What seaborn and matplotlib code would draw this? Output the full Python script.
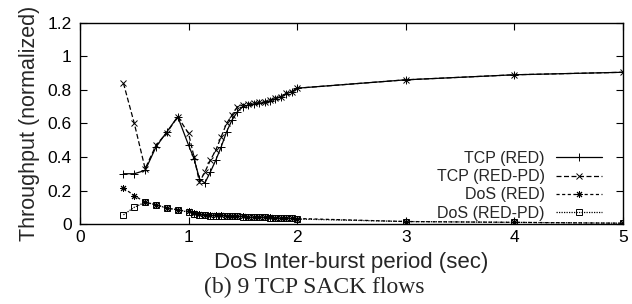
import numpy as np
import pandas as pd
import matplotlib
matplotlib.use("Agg")
import matplotlib.pyplot as plt
import seaborn as sns

# inter-burst period (sec)
period = [0.4, 0.5, 0.6, 0.7, 0.8, 0.9, 1.0, 1.05, 1.1, 1.15, 1.2, 1.25, 1.3, 1.35,
          1.4, 1.45, 1.5, 1.55, 1.6, 1.65, 1.7, 1.75, 1.8, 1.85, 1.9, 1.95, 2.0, 3.0, 4.0, 5.0]

tcp_red = [0.30, 0.30, 0.32, 0.46, 0.55, 0.64, 0.47, 0.39, 0.27, 0.245, 0.31, 0.38, 0.46, 0.55,
           0.62, 0.67, 0.70, 0.71, 0.715, 0.72, 0.725, 0.735, 0.745, 0.76, 0.775, 0.79, 0.81, 0.86, 0.89, 0.905]
tcp_redpd = [0.84, 0.60, 0.33, 0.47, 0.545, 0.64, 0.54, 0.40, 0.25, 0.31, 0.38, 0.44, 0.52, 0.60,
             0.65, 0.70, 0.71, 0.715, 0.72, 0.725, 0.73, 0.74, 0.75, 0.76, 0.78, 0.79, 0.81, 0.86, 0.89, 0.905]
dos_red = [0.215, 0.17, 0.13, 0.115, 0.095, 0.085, 0.075, 0.065, 0.058, 0.055, 0.053, 0.052, 0.051, 0.05,
           0.048, 0.047, 0.046, 0.045, 0.044, 0.043, 0.042, 0.04, 0.039, 0.038, 0.036, 0.035, 0.033, 0.015, 0.01, 0.005]
dos_redpd = [0.055, 0.10, 0.13, 0.115, 0.095, 0.085, 0.07, 0.062, 0.055, 0.052, 0.05, 0.05, 0.049, 0.048,
             0.047, 0.046, 0.045, 0.044, 0.043, 0.042, 0.04, 0.039, 0.038, 0.036, 0.035, 0.034, 0.03, 0.015, 0.01, 0.005]

series_names = ["TCP (RED)", "TCP (RED-PD)", "DoS (RED)", "DoS (RED-PD)"]
x_ticks = [0, 1, 2, 3, 4, 5]
y_ticks = [0, 0.2, 0.4, 0.6, 0.8, 1.0, 1.2]
y_tick_labels = ["0", "0.2", "0.4", "0.6", "0.8", "1", "1.2"]

sns.set_style("ticks")
plt.rcParams['font.family'] = ['Liberation Sans', 'DejaVu Sans']

fig = plt.figure(figsize=(6.32, 3.04), dpi=100)
ax = fig.add_axes([0.1266, 0.263, 0.859, 0.662])

styles = [
    dict(marker="+", linestyle="-", markersize=6, mfc="none"),
    dict(marker="x", linestyle=(0, (4, 2)), markersize=5, mfc="none"),
    dict(marker=(8, 2, 0), linestyle=(0, (2.5, 2)), markersize=5, mfc="none"),
    dict(marker="s", linestyle=(0, (1, 1)), markersize=4, mfc="none"),
]
values = [tcp_red, tcp_redpd, dos_red, dos_redpd]

for name, vals, st in zip(series_names, values, styles):
    sns.lineplot(x=period, y=vals, ax=ax, color="black", linewidth=0.9,
                 markeredgewidth=0.7, markeredgecolor="black", label=name, **st)

ax.set_xlim(0, 5)
ax.set_ylim(0, 1.2)
ax.set_xticks(x_ticks)
ax.set_xticklabels([str(t) for t in x_ticks])
ax.set_yticks(y_ticks)
ax.set_yticklabels(y_tick_labels)
ax.tick_params(direction="in", top=True, right=True, length=5, width=0.8,
               labelsize=12.5, colors="black")
ax.tick_params(axis="y", pad=6)
ax.tick_params(axis="x", pad=4)
for sp in ax.spines.values():
    sp.set_visible(True)
    sp.set_linewidth(1.0)
    sp.set_color("black")

ax.set_xlabel("DoS Inter-burst period (sec)", fontsize=16, labelpad=5)
ax.set_ylabel("Throughput (normalized)", fontsize=15.5, labelpad=5)

leg = ax.legend(loc="lower right", bbox_to_anchor=(0.98, -0.03), frameon=False,
                markerfirst=False, fontsize=11.5, handlelength=2.9, handletextpad=0.7,
                labelspacing=0.2, borderaxespad=0.2)
for t in leg.get_texts():
    t.set_ha("right")

fig.text(0.497, 0.055, "(b) 9 TCP SACK flows", ha="center", va="center",
         fontsize=17, family=["Liberation Serif", "DejaVu Serif"])

fig.savefig("out.png", dpi=100)
